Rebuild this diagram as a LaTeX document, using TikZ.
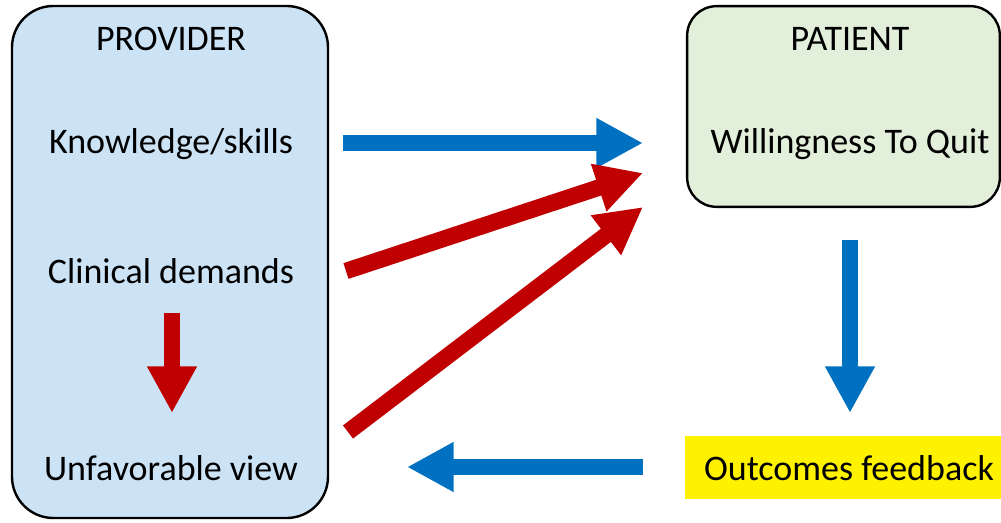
\documentclass[tikz,border=0pt]{standalone}
\usepackage{fontspec}
\setmainfont{Carlito}
\usetikzlibrary{arrows.meta,positioning}
\definecolor{arrblue}{RGB}{0,112,192}
\definecolor{arrred}{RGB}{192,0,0}
\definecolor{provfill}{RGB}{204,227,245}
\definecolor{patfill}{RGB}{226,239,218}

\begin{document}
\begin{tikzpicture}[x=0.75pt, y=-0.75pt, every node/.style={font=\fontsize{27}{32}\selectfont}]
\tikzset{grp/.style={draw, line width=1.8pt, inner sep=0pt}}
\tikzset{lbl/.style={anchor=base, inner sep=0pt}}
\tikzset{fat/.style={line width=12.4pt, -{Triangle[length=35pt, width=35pt]}}}
\useasboundingbox (0,0) rectangle (1001,522);
\node[grp, fill=provfill, rounded corners=31pt, minimum width=237pt, minimum height=384pt] (prov) at (170,262) {};
\node[grp, fill=patfill, rounded corners=22pt, minimum width=234.5pt, minimum height=150.5pt] (pat) at (843.5,106.5) {};
\node[fill=yellow, inner sep=0pt, minimum width=237pt, minimum height=47pt] (feed) at (843,467.5) {};
\node[lbl] (feedt) at (849,480) {Outcomes feedback};
\node[lbl] (provt) at (171,50) {PROVIDER};
\node[lbl] (know) at (171,153) {Knowledge/skills};
\node[lbl] (clin) at (171,283) {Clinical demands};
\node[lbl] (unfav) at (171,480) {Unfavorable view};
\node[lbl] (patt) at (850,50) {PATIENT};
\node[lbl] (will) at (850,153) {Willingness To Quit};
\coordinate (know-o) at (343,143);
\coordinate (clin-o) at (346,271);
\coordinate (unfav-o) at (348,432);
\coordinate (will-a) at (643,143);
\coordinate (will-b) at (643,173);
\coordinate (will-c) at (643,207);
\coordinate (clin-d) at (172,313);
\coordinate (unfav-u) at (172,413);
\coordinate (will-d) at (850,240);
\coordinate (feed-u) at (850,413);
\coordinate (feed-o) at (643,467);
\coordinate (unfav-i) at (407,467);
\draw[fat, arrblue] (know-o) -- (will-a);
\draw[fat, arrred] (clin-o) -- (will-b);
\draw[fat, arrred] (unfav-o) -- (will-c);
\draw[fat, arrred] (clin-d) -- (unfav-u);
\draw[fat, arrblue] (will-d) -- (feed-u);
\draw[fat, arrblue] (feed-o) -- (unfav-i);
\end{tikzpicture}
\end{document}
